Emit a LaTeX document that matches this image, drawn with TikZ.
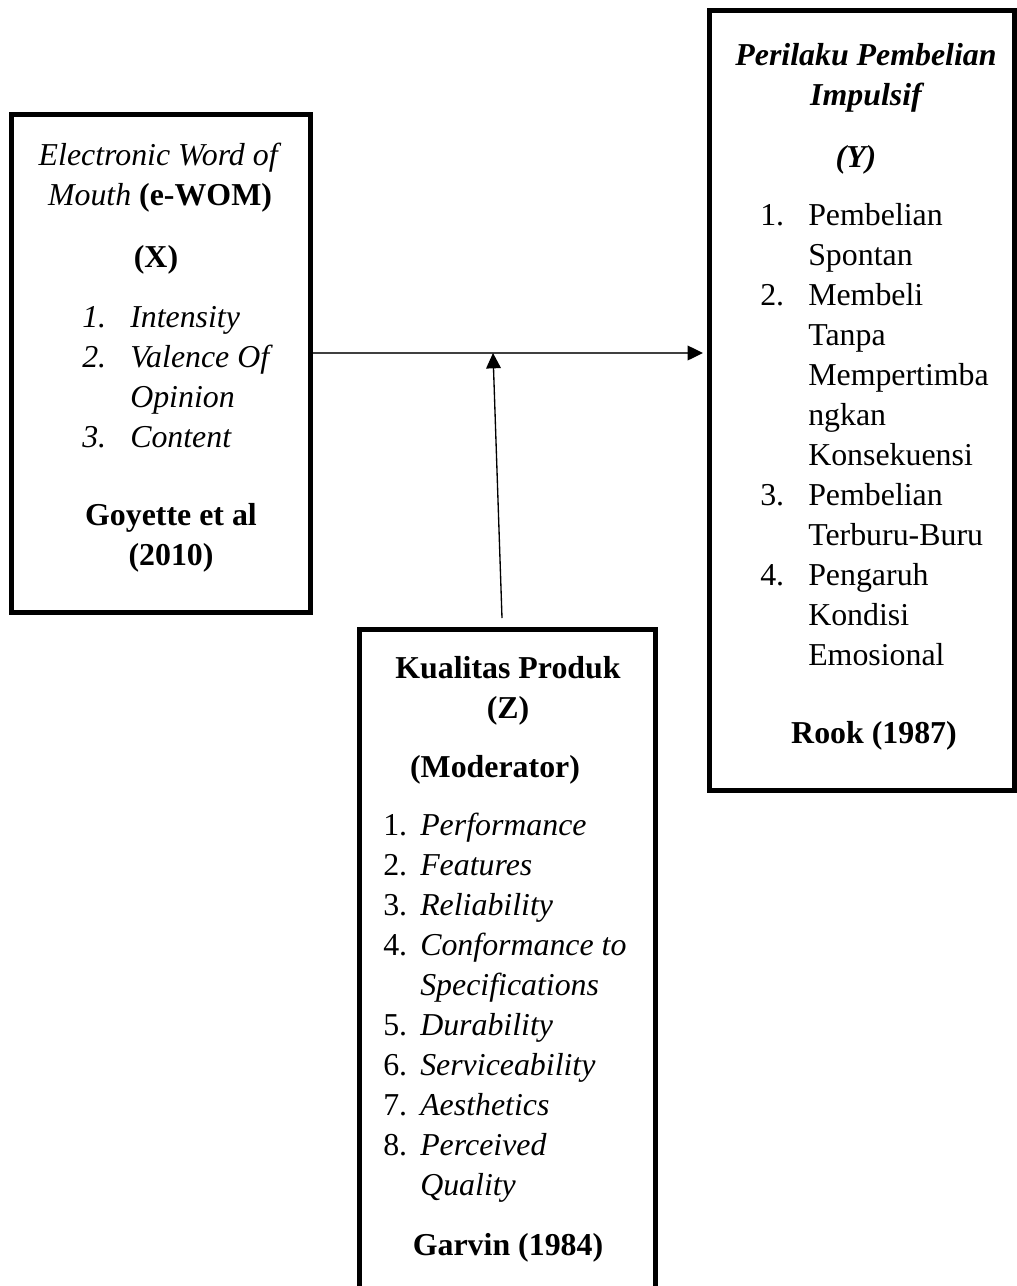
\documentclass[tikz,border=0pt]{standalone}
\usepackage{fontspec}
\setmainfont{Liberation Serif}
\usepackage{array}
\usetikzlibrary{arrows.meta,positioning}
\tikzset{>={Triangle[length=11.5pt,width=11pt,black]}}

\begin{document}
\begin{tikzpicture}[x=0.75pt,y=-0.75pt,
  varbox/.style={draw,line width=3.6pt,anchor=north west,inner sep=0pt},
  txt/.style={inner sep=0pt,anchor=base,font=\fontsize{23.9}{30}\selectfont},
  link/.style={->,line width=1pt}]
\useasboundingbox (0,0) rectangle (1017,1286);

% the three variable boxes
\node[varbox,minimum width=224.25pt,minimum height=373.5pt] (xbox) at (9,112) {};
\node[varbox,minimum width=228.75pt,minimum height=585pt] (ybox) at (707,8) {};
\node[varbox,minimum width=222pt,minimum height=510pt] (zbox) at (357,627) {};

% Electronic Word of Mouth (X)
\node[txt] (xhead) at (160,165) {\begin{tabular}[t]{@{}c@{}}\textit{Electronic Word of}\\\textit{Mouth} \textbf{(e-WOM)}\end{tabular}};
\node[txt] (xname) at (156,267) {\textbf{(X)}};
\node[txt,anchor=base west] (xlist) at (82,327) {\begin{tabular}[t]{@{}>{\itshape}p{36pt}@{}>{\itshape}l@{}}
1. & Intensity\\
2. & Valence Of\\
   & Opinion\\
3. & Content
\end{tabular}};
\node[txt] (xcite) at (171,525) {\bfseries\begin{tabular}[t]{@{}c@{}}Goyette et al\\(2010)\end{tabular}};

% Perilaku Pembelian Impulsif (Y)
\node[txt] (yhead) at (866,65) {\bfseries\itshape\begin{tabular}[t]{@{}c@{}}Perilaku Pembelian\\Impulsif\end{tabular}};
\node[txt] (yname) at (856,167) {\textbf{\textit{(Y)}}};
\node[txt,anchor=base west] (ylist) at (760,225) {\begin{tabular}[t]{@{}p{36pt}@{}l@{}}
1. & Pembelian\\
   & Spontan\\
2. & Membeli\\
   & Tanpa\\
   & Mempertimba\\
   & ngkan\\
   & Konsekuensi\\
3. & Pembelian\\
   & Terburu-Buru\\
4. & Pengaruh\\
   & Kondisi\\
   & Emosional
\end{tabular}};
\node[txt] (ycite) at (874,743) {\textbf{Rook (1987)}};

% Kualitas Produk (Z)
\node[txt] (zhead) at (508,678) {\bfseries\begin{tabular}[t]{@{}c@{}}Kualitas Produk\\(Z)\end{tabular}};
\node[txt] (zname) at (495,777) {\textbf{(Moderator)}};
\node[txt,anchor=base west] (zlist) at (383,835) {\begin{tabular}[t]{@{}p{27.75pt}@{}>{\itshape}l@{}}
1. & Performance\\
2. & Features\\
3. & Reliability\\
4. & Conformance to\\
   & Specifications\\
5. & Durability\\
6. & Serviceability\\
7. & Aesthetics\\
8. & Perceived\\
   & Quality
\end{tabular}};
\node[txt] (zcite) at (508,1255) {\textbf{Garvin (1984)}};

% connectors
\coordinate (mid) at (493,353);
\coordinate (zfoot) at (502,618);
\draw[link,black!75,shorten >=3pt] (xbox.east |- mid) -- (ybox.west |- mid);
\draw[link] (zfoot) -- (mid);
\end{tikzpicture}
\end{document}
